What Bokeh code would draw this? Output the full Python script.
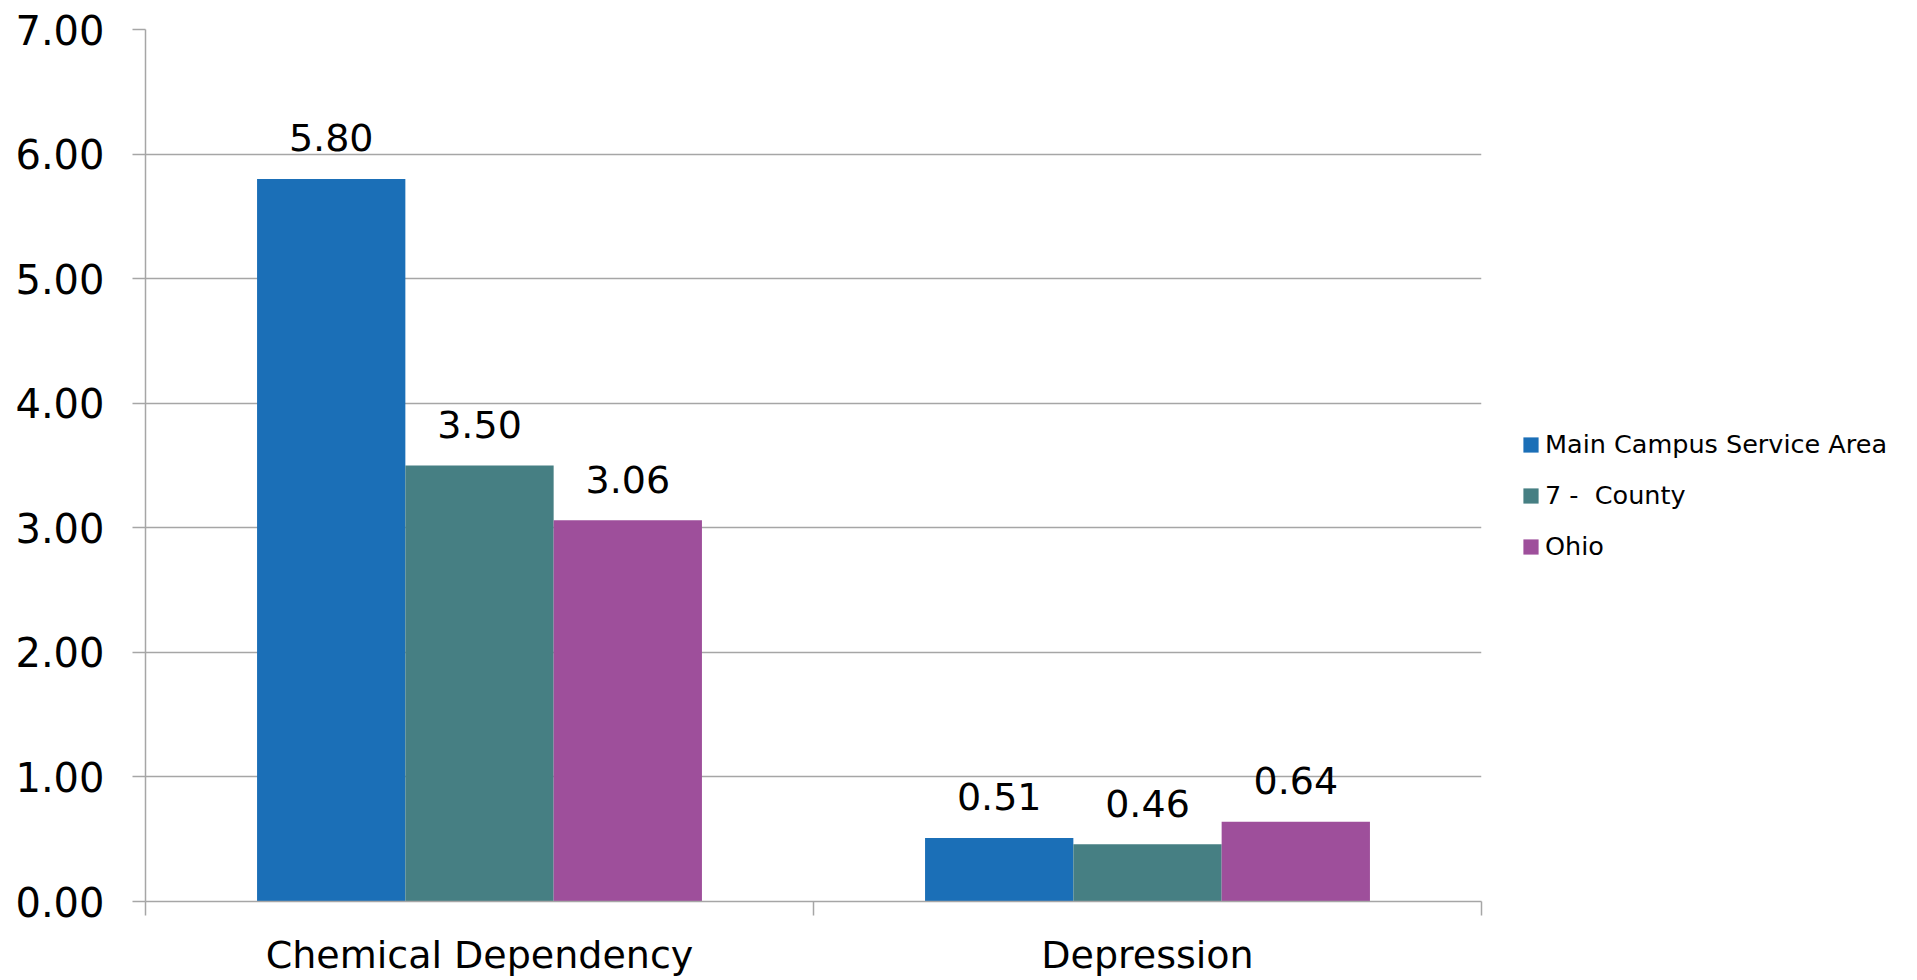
from bokeh.plotting import figure
from bokeh.models import (ColumnDataSource, Range1d, FixedTicker, NumeralTickFormatter,
                          Legend, LegendItem)
from bokeh.core.properties import value
from bokeh.embed import file_html
from bokeh.resources import INLINE

# ---- data ----
categories = ["Chemical Dependency", "Depression"]
series_names = ["Main Campus Service Area", "7 -  County", "Ohio"]
main_campus = [5.80, 0.51]
seven_county = [3.50, 0.46]
ohio = [3.06, 0.64]
y_ticks = [0, 1, 2, 3, 4, 5, 6, 7]

# ---- styles ----
colors = ["#1b6fb7", "#467f83", "#9e4f9b"]
FONT = "DejaVu Sans"
GRAY = "#a6a6a6"
BAR_W = 0.222
offsets = [-BAR_W, 0.0, BAR_W]

p = figure(frame_width=1336, frame_height=872,
           x_range=Range1d(0, len(categories)), y_range=Range1d(0, 7),
           output_backend="svg", toolbar_location=None,
           min_border_left=145, min_border_right=0, min_border_top=29, min_border_bottom=0)
p.outline_line_color = None
p.background_fill_color = "white"
p.border_fill_color = "white"
p.xgrid.visible = False
p.ygrid.grid_line_color = GRAY
p.ygrid.grid_line_width = 1.5

renderers = []
for vals, name, col, off in zip([main_campus, seven_county, ohio], series_names, colors, offsets):
    src = ColumnDataSource(dict(
        x=[i + 0.5 + off for i in range(len(categories))],
        top=vals,
        lab=[f"{v:.2f}" for v in vals],
    ))
    r = p.vbar(x="x", top="top", width=BAR_W, bottom=0, source=src,
               fill_color=col, line_color=None)
    renderers.append(r)
    p.text(x="x", y="top", text="lab", source=src, text_align="center",
           text_baseline="alphabetic", y_offset=-41, text_font=value(FONT),
           text_font_size="38px", text_color="black")

# y axis
p.yaxis.ticker = FixedTicker(ticks=y_ticks)
p.yaxis.formatter = NumeralTickFormatter(format="0.00")
p.yaxis.major_label_text_font = FONT
p.yaxis.major_label_text_font_size = "40px"
p.yaxis.major_label_text_color = "black"
p.yaxis.major_tick_out = 13
p.yaxis.major_tick_in = 0
p.yaxis.minor_tick_out = 0
p.yaxis.minor_tick_in = 0
p.yaxis.axis_line_color = GRAY
p.yaxis.axis_line_width = 1.5
p.yaxis.major_tick_line_color = GRAY
p.yaxis.major_tick_line_width = 1.5
p.yaxis.major_label_standoff = 28

# x axis
p.xaxis.ticker = FixedTicker(ticks=[i + 0.5 for i in range(len(categories))],
                             minor_ticks=list(range(len(categories) + 1)))
p.xaxis.major_label_overrides = {i + 0.5: c for i, c in enumerate(categories)}
p.xaxis.major_label_text_font = FONT
p.xaxis.major_label_text_font_size = "38px"
p.xaxis.major_label_text_color = "black"
p.xaxis.major_tick_out = 0
p.xaxis.major_tick_in = 0
p.xaxis.minor_tick_out = 14
p.xaxis.minor_tick_in = 0
p.xaxis.minor_tick_line_color = GRAY
p.xaxis.minor_tick_line_width = 1.5
p.xaxis.axis_line_color = GRAY
p.xaxis.axis_line_width = 1.5
p.xaxis.major_label_standoff = 17

legend = Legend(items=[LegendItem(label=n, renderers=[r]) for n, r in zip(series_names, renderers)],
                location=(40, 340), orientation="vertical",
                label_text_font=FONT, label_text_font_size="25.5px", label_text_color="black",
                glyph_width=19, glyph_height=19, label_standoff=5, spacing=21,
                padding=0, margin=0, border_line_color=None, background_fill_alpha=0)
p.add_layout(legend, "right")

open("out.html", "w").write(file_html(p, INLINE))
